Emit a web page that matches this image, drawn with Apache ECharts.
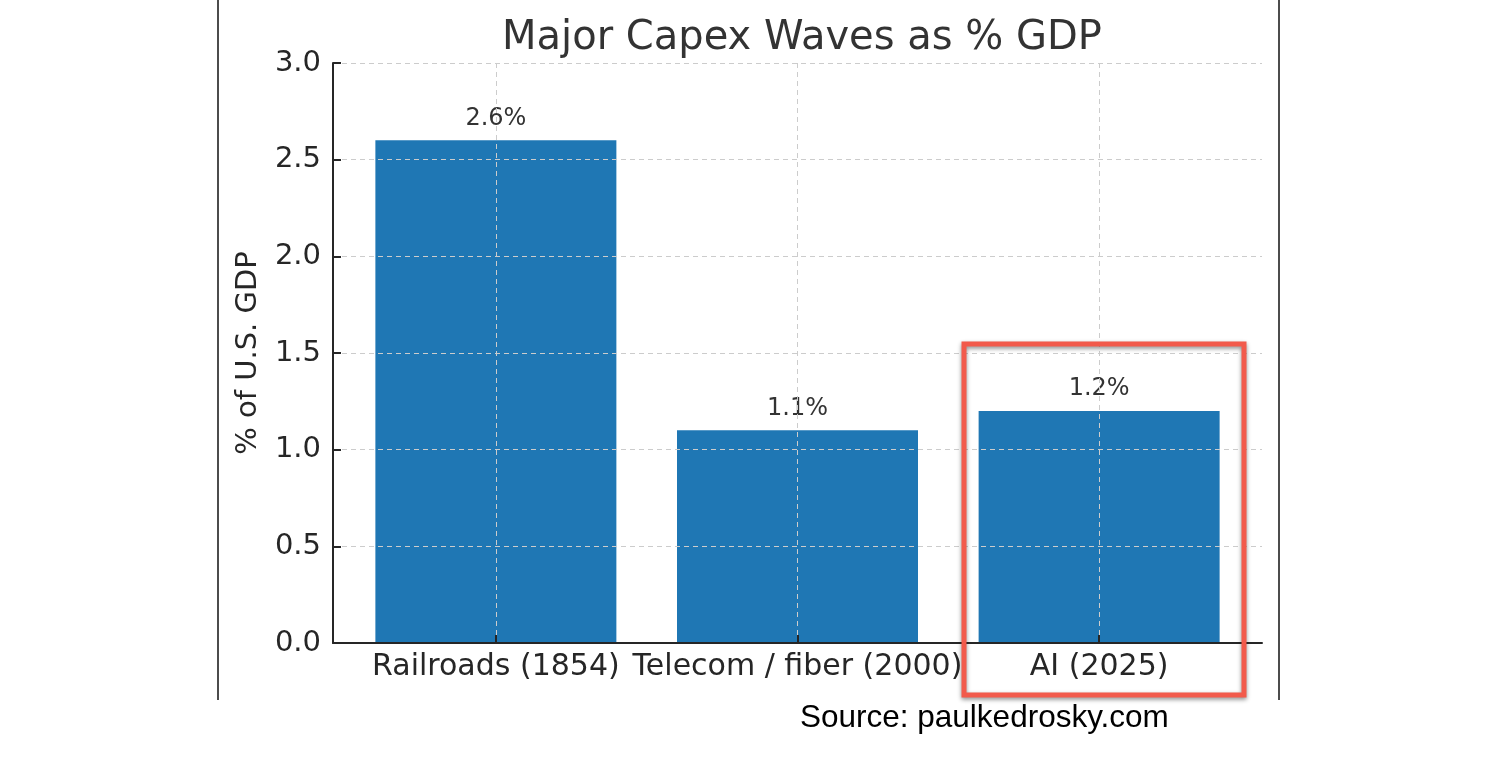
<!DOCTYPE html>
<html>
<head>
<meta charset="utf-8">
<title>Major Capex Waves as % GDP</title>
<script src="https://cdn.jsdelivr.net/npm/echarts@6/dist/echarts.min.js"></script>
<style>
    html, body { margin: 0; padding: 0; background: #fff; }
    #box { width: 1510px; height: 766px; }
</style>
</head>
<body>
<div id="box"></div>
<script>
// data
var categories = ['Railroads (1854)', 'Telecom / fiber (2000)', 'AI (2025)'];
var gdpShare = [2.6, 1.1, 1.2];
var yTicks = [0, 0.5, 1, 1.5, 2, 2.5, 3];

var positions = categories.map(function (c, i) { return i; });
var barData = gdpShare.map(function (v, i) { return [positions[i], v]; });

var myChart = echarts.init(document.getElementById('box'));
var textColor = '#262626';
var font = 'DejaVu Sans';

var option = {
    animation: false,
    title: {
        text: 'Major Capex Waves as % GDP',
        left: 797,
        textAlign: 'center',
        top: 14,
        textStyle: { fontFamily: font, fontSize: 40, fontWeight: 'normal', color: '#333' }
    },
    grid: { left: 333, right: 248, top: 63, bottom: 123 },
    xAxis: {
        type: 'value',
        min: -0.54,
        max: 2.54,
        z: 3,
        axisLine: { show: true, onZero: false, lineStyle: { color: textColor, width: 2 } },
        axisTick: { show: true, inside: true, length: 8, customValues: positions, lineStyle: { color: textColor, width: 2 } },
        axisLabel: {
            customValues: positions,
            formatter: function (v) { return categories[Math.round(v)]; },
            fontFamily: font, fontSize: 30, color: textColor, margin: 9
        },
        splitLine: { show: true, lineStyle: { color: '#cccccc', type: [5, 4], width: 1 } }
    },
    yAxis: {
        type: 'value',
        min: 0,
        max: 3,
        interval: 0.5,
        z: 3,
        name: '% of U.S. GDP',
        nameLocation: 'middle',
        nameGap: 70,
        nameTextStyle: { fontFamily: font, fontSize: 29, color: textColor },
        axisLine: { show: true, onZero: false, lineStyle: { color: textColor, width: 2 } },
        axisTick: { show: true, inside: true, length: 8, lineStyle: { color: textColor, width: 2 } },
        axisLabel: {
            formatter: function (v) { return v.toFixed(1); },
            fontFamily: font, fontSize: 29, color: textColor, margin: 12
        },
        splitLine: { show: true, lineStyle: { color: '#cccccc', type: [5, 4], width: 1 } }
    },
    series: [
        {
            type: 'bar',
            data: barData,
            barWidth: 241,
            itemStyle: { color: '#1f77b4' },
            label: {
                show: true,
                position: 'top',
                distance: 10,
                formatter: function (p) { return p.value[1].toFixed(1) + '%'; },
                fontFamily: font, fontSize: 24, color: '#333'
            }
        }
    ],
    graphic: [
        { type: 'line', shape: { x1: 218, y1: 0, x2: 218, y2: 700 }, style: { stroke: '#111', lineWidth: 1.5 } },
        { type: 'line', shape: { x1: 1279, y1: 0, x2: 1279, y2: 700 }, style: { stroke: '#111', lineWidth: 1.5 } },
        {
            type: 'rect',
            z: 100,
            shape: { x: 964, y: 344, width: 280, height: 351 },
            style: {
                fill: 'none', stroke: '#f25a4b', lineWidth: 5,
                shadowBlur: 4, shadowOffsetY: 2, shadowColor: 'rgba(0,0,0,0.45)'
            }
        },
        {
            type: 'text',
            left: 800,
            top: 702,
            style: { text: 'Source: paulkedrosky.com', font: '31.5px "Liberation Sans", Arial, sans-serif', fill: '#000' }
        }
    ]
};
myChart.setOption(option);
</script>
</body>
</html>
